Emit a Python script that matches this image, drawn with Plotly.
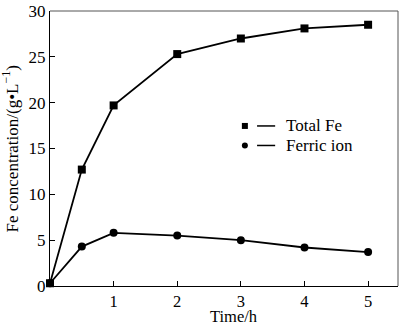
import plotly.graph_objects as go

# Sampling times (h)
time_h = [0, 0.5, 1, 2, 3, 4, 5]
# Iron concentrations (g/L)
total_fe = [0.3, 12.7, 19.7, 25.3, 27.0, 28.1, 28.5]
ferric_ion = [0.3, 4.3, 5.8, 5.5, 5.0, 4.2, 3.7]

series_names = ["Total Fe", "Ferric ion"]
x_ticks = [1, 2, 3, 4, 5]
y_ticks = [0, 5, 10, 15, 20, 25, 30]

FONT = "Liberation Serif, Times New Roman, serif"

fig = go.Figure()
fig.add_trace(go.Scatter(
    x=time_h, y=total_fe, mode="lines+markers", name=series_names[0],
    line=dict(color="black", width=1.8),
    marker=dict(symbol="square", size=8, color="black"),
    cliponaxis=False,
))
fig.add_trace(go.Scatter(
    x=time_h, y=ferric_ion, mode="lines+markers", name=series_names[1],
    line=dict(color="black", width=1.8),
    marker=dict(symbol="circle", size=8, color="black"),
    cliponaxis=False,
))

fig.update_layout(
    width=400, height=326,
    margin=dict(l=50, r=2, t=4, b=40),
    paper_bgcolor="white", plot_bgcolor="white",
    showlegend=False,
    font=dict(family=FONT, size=17, color="black"),
)
fig.update_xaxes(
    range=[0, 5.47], tickvals=x_ticks, ticks="inside", ticklen=5,
    tickcolor="black", showgrid=False, zeroline=False,
    showline=True, linecolor="black", linewidth=1,
    tickfont=dict(family=FONT, size=16.5), ticklabeloverflow="allow",
)
fig.update_yaxes(
    range=[0, 30], tickvals=y_ticks, ticks="inside", ticklen=5,
    tickcolor="black", showgrid=False, zeroline=False,
    showline=True, linecolor="black", linewidth=1,
    tickfont=dict(family=FONT, size=17), ticklabeloverflow="allow",
)

# top and right frame lines
fig.add_shape(type="line", xref="paper", yref="paper", x0=0, x1=1, y0=1, y1=1,
              line=dict(color="#555", width=1))
fig.add_shape(type="line", xref="paper", yref="paper", x0=1, x1=1, y0=0, y1=1,
              line=dict(color="#555", width=1))

# axis titles
fig.add_annotation(text="Time/h", xref="paper", yref="paper", x=0.529, y=-0.1117,
                   xanchor="center", yanchor="middle", showarrow=False,
                   font=dict(family=FONT, size=16.5))
fig.add_annotation(text="Fe concentration/(g•L<sup>−1</sup>)", xref="paper", yref="paper",
                   x=-0.115, y=0.5, xanchor="center", yanchor="middle",
                   textangle=-90, showarrow=False, font=dict(family=FONT, size=17))

# legend: marker, dash, label
legend_rows = [(0.582, "square"), (0.511, "circle")]
for (yy, sym), name in zip(legend_rows, series_names):
    shape_type = "rect" if sym == "square" else "circle"
    fig.add_shape(type=shape_type, xref="paper", yref="paper",
                  xsizemode="pixel", ysizemode="pixel",
                  xanchor=0.560, yanchor=yy, x0=-3, x1=3, y0=-3, y1=3,
                  fillcolor="black", line=dict(color="black", width=0))
    fig.add_shape(type="line", xref="paper", yref="paper",
                  x0=0.595, x1=0.647, y0=yy, y1=yy,
                  line=dict(color="black", width=1.5))
    fig.add_annotation(text=name, xref="paper", yref="paper", x=0.672, y=yy,
                       xanchor="left", yanchor="middle", showarrow=False,
                       font=dict(family=FONT, size=17))

fig.write_html("out.html")
